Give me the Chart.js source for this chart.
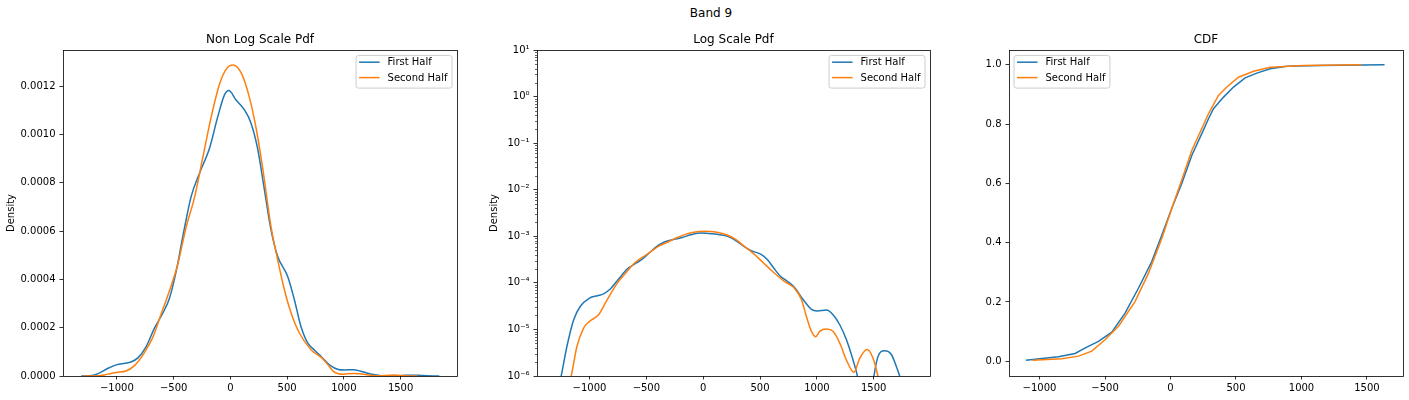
<!DOCTYPE html>
<html><head><meta charset="utf-8">
<script src="https://cdn.jsdelivr.net/npm/chart.js@4/dist/chart.umd.min.js"></script>
<style>
body{margin:0;background:#fff;width:1409px;height:400px;overflow:hidden;position:relative;font-family:'DejaVu Sans';}
canvas{position:absolute;top:0;}
#sup{position:absolute;left:0;width:1422px;top:6px;text-align:center;font-size:12px;line-height:14px;color:#000;}
</style></head><body>
<div id="sup">Band 9</div>
<canvas id="c1" width="470" height="400" style="left:0px"></canvas>
<canvas id="c2" width="470" height="400" style="left:470px"></canvas>
<canvas id="c3" width="469" height="400" style="left:940px"></canvas>
<script>
// ---------- data ----------
const seriesNames = ['First Half', 'Second Half'];
const seriesColors = ['#1f77b4', '#ff7f0e'];

// KDE of first half (x, density)
const kdeFirstX = [-1314,-1249,-1199,-1140,-1082,-1000,-930,-877,-815,-742,-668,-595,-536,-478,-419,-346,-272,-184,-111,-52,-14,50,124,182,241,300,358,417,505,564,622,681,740,798,879,952,1004,1084,1142,1201,1260,1318,1356,1400,1430,1470,1502,1537,1596,1655,1699,1728,1790,1841];
const kdeFirstY = [2e-7,1e-6,4.3e-6,1.6e-5,3.1e-5,4.7e-5,5.3e-5,5.8e-5,7.5e-5,1.22e-4,1.99e-4,2.61e-4,3.23e-4,4.33e-4,5.78e-4,7.43e-4,8.4e-4,9.43e-4,1.074e-3,1.164e-3,1.182e-3,1.143e-3,1.102e-3,1.047e-3,9.4e-4,7.71e-4,6.05e-4,4.95e-4,4.12e-4,3.16e-4,2.05e-4,1.37e-4,1.08e-4,8.2e-5,4.4e-5,2.7e-5,2.5e-5,2.6e-5,2.07e-5,1.26e-5,6e-6,2.2e-6,1e-6,2e-7,1e-7,2.5e-7,1e-6,2.6e-6,3.5e-6,2.9e-6,1.6e-6,1e-6,3e-7,1e-7];

// KDE of second half
const kdeSecondX = [-1297,-1161,-1111,-1052,-1000,-921,-848,-760,-683,-610,-536,-463,-390,-316,-243,-170,-96,-38,21,94,168,226,285,358,417,476,535,608,711,806,864,908,952,990,1025,1084,1142,1201,1260,1325,1377,1441,1494,1537,1600,1650];
const kdeSecondY = [1e-7,1e-6,4.3e-6,1.07e-5,1.49e-5,2.07e-5,4.2e-5,9.5e-5,1.61e-4,2.57e-4,3.54e-4,4.64e-4,6.16e-4,7.4e-4,9.05e-4,1.071e-3,1.208e-3,1.27e-3,1.288e-3,1.256e-3,1.153e-3,1.028e-3,8.6e-4,6.19e-4,4.81e-4,3.57e-4,2.61e-4,1.78e-4,1.09e-4,7.5e-5,4.4e-5,1.9e-5,9.1e-6,7e-6,9.1e-6,1.02e-5,9.1e-6,5.1e-6,2.2e-6,1.2e-6,2.4e-6,3.7e-6,2.4e-6,1e-6,2e-7,5e-8];

// Empirical CDF
const cdfFirstX = [-1104,-982,-855,-728,-651,-550,-448,-346,-244,-143,-66,10,86,163,239,290,328,405,481,570,659,761,888,1143,1634];
const cdfFirstY = [0.003,0.009,0.015,0.026,0.045,0.067,0.098,0.163,0.247,0.336,0.426,0.516,0.600,0.695,0.768,0.818,0.852,0.891,0.925,0.956,0.972,0.987,0.995,0.998,1.0];
const cdfSecondX = [-1053,-830,-702,-601,-498,-397,-270,-168,-66,10,86,163,239,290,366,430,519,634,761,1015,1456];
const cdfSecondY = [0.003,0.008,0.017,0.034,0.073,0.118,0.202,0.297,0.415,0.516,0.611,0.712,0.785,0.835,0.897,0.925,0.958,0.978,0.992,0.998,1.0];

// Ticks
const xTickValues = [-1000,-500,0,500,1000,1500];
const xTickLabels = ['\u22121000','\u2212500','0','500','1000','1500'];
const pdfTickValues = [0,0.0002,0.0004,0.0006,0.0008,0.0010,0.0012];
const pdfTickLabels = ['0.0000','0.0002','0.0004','0.0006','0.0008','0.0010','0.0012'];
const logTickValues = [1e-6,1e-5,1e-4,1e-3,1e-2,1e-1,1,10];
const logTickLabels = ['10\u207B\u2076','10\u207B\u2075','10\u207B\u2074','10\u207B\u00B3','10\u207B\u00B2','10\u207B\u00B9','10\u2070','10\u00B9'];
const cdfTickValues = [0,0.2,0.4,0.6,0.8,1.0];
const cdfTickLabels = ['0.0','0.2','0.4','0.6','0.8','1.0'];

const titles = ['Non Log Scale Pdf', 'Log Scale Pdf', 'CDF'];
const yTitle = 'Density';

// ---------- helpers ----------
Chart.defaults.font.family = "'DejaVu Sans'";
Chart.defaults.font.size = 10;
Chart.defaults.color = '#000';

function pts(xs, ys){ return xs.map((x,i)=>({x:x, y:ys[i]})); }

function makeDatasets(xa, ya, xb, yb, smooth){
  return [
    {label:seriesNames[0], data:pts(xa,ya), borderColor:seriesColors[0], borderWidth:1.5, pointRadius:0, fill:false, order:1, clip:0,
     cubicInterpolationMode: smooth ? 'monotone' : 'default', tension: smooth ? 0.4 : 0},
    {label:seriesNames[1], data:pts(xb,yb), borderColor:seriesColors[1], borderWidth:1.5, pointRadius:0, fill:false, order:0, clip:0,
     cubicInterpolationMode: smooth ? 'monotone' : 'default', tension: smooth ? 0.4 : 0}
  ];
}

const gridOpts = {display:true, drawOnChartArea:false, drawTicks:true, tickLength:3.5, tickColor:'#000', tickWidth:0.8};

function xScale(min, max){
  return {type:'linear', min:min, max:max,
    afterBuildTicks(s){ s.ticks = xTickValues.map(v=>({value:v})); },
    afterFit(s){ s.height = 24; s.paddingLeft = 0; s.paddingRight = 0; },
    ticks:{autoSkip:false, maxRotation:0, minRotation:0, padding:3, color:'#000', font:{size:10}, callback:(v,i)=>xTickLabels[i]},
    grid:gridOpts, border:{display:false}};
}
function yScale(type, min, max, vals, labels, width, titleText, titlePad){
  return {type:type, min:min, max:max,
    afterBuildTicks(s){ s.ticks = vals.map(v=>({value:v, major:true})); },
    afterFit(s){ s.width = width; s.paddingTop = 0; s.paddingBottom = 0; },
    title: titleText ? {display:true, text:titleText, color:'#000', font:{size:10}, padding:{top:titlePad, bottom:0}} : {display:false},
    ticks:{autoSkip:false, padding:4, color:'#000', font:{size:10}, callback:(v,i)=>labels[i]},
    grid:gridOpts, border:{display:false}};
}

const framePlugin = {id:'frame', afterDatasetsDraw(chart){
  const {ctx, chartArea:a} = chart;
  ctx.save(); ctx.strokeStyle = '#000'; ctx.lineWidth = 0.8;
  const l = Math.round(a.left)+0.5, t = Math.round(a.top)+0.5, r = Math.round(a.right)+0.5, b = Math.round(a.bottom)+0.5;
  ctx.strokeRect(l, t, r-l, b-t);
  ctx.restore();
}};

function legendPlugin(corner){ return {id:'mplLegend', afterDraw(chart){
  const {ctx, chartArea:a} = chart;
  ctx.save();
  ctx.font = "10px 'DejaVu Sans'";
  const ds = chart.data.datasets;
  const tw = Math.max(...ds.map(d=>ctx.measureText(d.label).width));
  const w = 31.5 + tw + 4.5, h = 32.7;
  const x0 = corner === 'right' ? a.right - 5 - w : a.left + 5;
  const y0 = a.top + 5.4;
  ctx.beginPath(); ctx.roundRect(x0, y0, w, h, 2.5);
  ctx.fillStyle = 'rgba(255,255,255,0.8)'; ctx.fill();
  ctx.strokeStyle = '#cccccc'; ctx.lineWidth = 1; ctx.stroke();
  ds.forEach((d,i)=>{
    const cy = y0 + 6.8 + i*15.4;
    ctx.beginPath(); ctx.moveTo(x0+3, cy); ctx.lineTo(x0+23.5, cy);
    ctx.strokeStyle = d.borderColor; ctx.lineWidth = 1.5; ctx.stroke();
    ctx.fillStyle = '#000'; ctx.textBaseline = 'middle'; ctx.textAlign = 'left';
    ctx.fillText(d.label, x0+31.5, cy+0.5);
  });
  ctx.restore();
}}; }

const minorLogPlugin = {id:'minorLog', afterDatasetsDraw(chart){
  const {ctx, chartArea:a} = chart; const ys = chart.scales.y;
  ctx.save(); ctx.strokeStyle = '#000'; ctx.lineWidth = 0.6;
  for (let k = -6; k <= 0; k++) {
    for (let m = 2; m <= 9; m++) {
      const py = Math.round(ys.getPixelForValue(m*Math.pow(10,k))) + 0.5;
      ctx.beginPath(); ctx.moveTo(a.left, py); ctx.lineTo(a.left-2, py); ctx.stroke();
    }
  }
  ctx.restore();
}};

function titleOpts(text){
  return {display:true, text:text, color:'#000', font:{size:12, weight:'normal'}, padding:{top:33, bottom:2.6}, fullSize:false};
}

function makeChart(id, datasets, xs, ys, title, rightPad, plugins){
  return new Chart(document.getElementById(id), {
    type:'line',
    data:{datasets:datasets},
    options:{responsive:false, animation:false, events:[],
      layout:{padding:{left:0, right:rightPad, top:0, bottom:0}},
      plugins:{legend:{display:false}, tooltip:{enabled:false}, title:titleOpts(title)},
      scales:{x:xs, y:ys}},
    plugins:plugins
  });
}

makeChart('c1', makeDatasets(kdeFirstX, kdeFirstY, kdeSecondX, kdeSecondY, true),
  xScale(-1475, 1997), yScale('linear', 0, 0.00135, pdfTickValues, pdfTickLabels, 63, yTitle, 5.7),
  titles[0], 13, [framePlugin, legendPlugin('right')]);

makeChart('c2', makeDatasets(kdeFirstX, kdeFirstY, kdeSecondX, kdeSecondY, true),
  xScale(-1462, 1995), yScale('logarithmic', 1e-6, 10, logTickValues, logTickLabels, 67, yTitle, 18.7),
  titles[1], 10, [framePlugin, minorLogPlugin, legendPlugin('right')]);

makeChart('c3', makeDatasets(cdfFirstX, cdfFirstY, cdfSecondX, cdfSecondY, false),
  xScale(-1233, 1775), yScale('linear', -0.05, 1.05, cdfTickValues, cdfTickLabels, 69, null, 0),
  titles[2], 6, [framePlugin, legendPlugin('left')]);
</script>
</body></html>
